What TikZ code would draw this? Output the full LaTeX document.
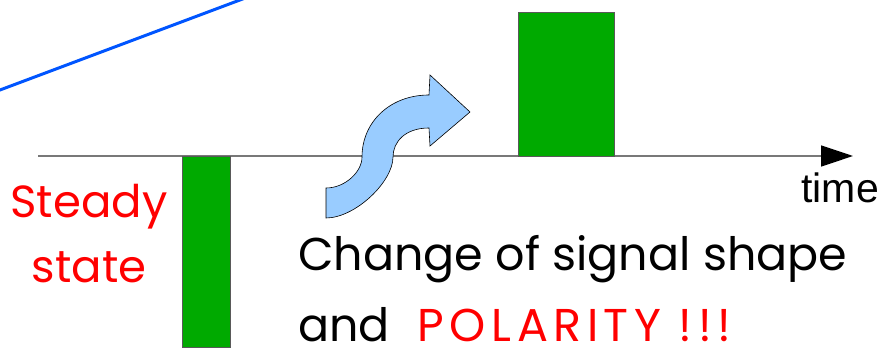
\documentclass[tikz,border=0pt]{standalone}
\usepackage{fontspec}
\setmainfont{Poppins}
\newfontfamily\axisfont{Liberation Sans}
\usepackage{xcolor}
\usepackage{tikz}
\usetikzlibrary{arrows.meta,calc,positioning}

\definecolor{pulsegreen}{RGB}{0,170,0}
\definecolor{driftblue}{RGB}{0,85,255}
\definecolor{bendblue}{RGB}{153,204,255}
\definecolor{axisgray}{RGB}{120,120,120}

\begin{document}
\begin{tikzpicture}[x=1pt, y=1pt, >=Stealth,
    pulse/.style={fill=pulsegreen, draw=black!65, line width=0.8pt},
    bigtext/.style={inner sep=0pt, font=\fontsize{46}{48}\selectfont},
    redtext/.style={inner sep=0pt, text=red, font=\fontsize{45}{47}\selectfont}]
  \useasboundingbox (0,0) rectangle (887,352);

  % drifting baseline (top left)
  \coordinate (driftA) at (-10,258.25);
  \coordinate (driftB) at (250,355.75);
  \draw[driftblue, line width=3pt] (driftA) -- (driftB);

  % time axis
  \coordinate (t0) at (38,196);
  \coordinate (t1) at (853,196);
  \draw[axisgray, line width=1.6pt, -{Triangle[length=32pt,width=21pt,color=black]}] (t0) -- (t1);
  \node[inner sep=0pt, anchor=base east, font=\axisfont\fontsize{41}{43}\selectfont] (timelabel) at (879,149) {time};

  % pulses: negative before, positive after
  \filldraw[pulse] (182,196) rectangle (230,5);
  \filldraw[pulse] (518,196) rectangle (614,340);

  % bent arrow
  \filldraw[fill=bendblue, draw=black, line width=0.6pt]
    (326,164) .. controls (345,164) and (362,180) .. (362,195)
    .. controls (362,230) and (390,257) .. (429,257)
    -- (430,277) -- (470,240) -- (430,206) -- (429,224)
    .. controls (405,224) and (393,210) .. (393,195)
    .. controls (393,170) and (355,134) .. (326,134) -- cycle;

  % labels
  \node[redtext, anchor=base] (steady) at (89,134) {Steady};
  \node[redtext, anchor=base] (state) at ([yshift=-65pt]steady.base) {state};
  \node[bigtext, anchor=base west] (msgtop) at (298,81) {Change of signal shape};
  \node[bigtext, anchor=base west] (msgbot) at ([yshift=-71pt]msgtop.base west)
    {and\hspace{28pt}\textcolor{red}{\addfontfeatures{LetterSpace=12}POLARITY !!!}};
\end{tikzpicture}
\end{document}
